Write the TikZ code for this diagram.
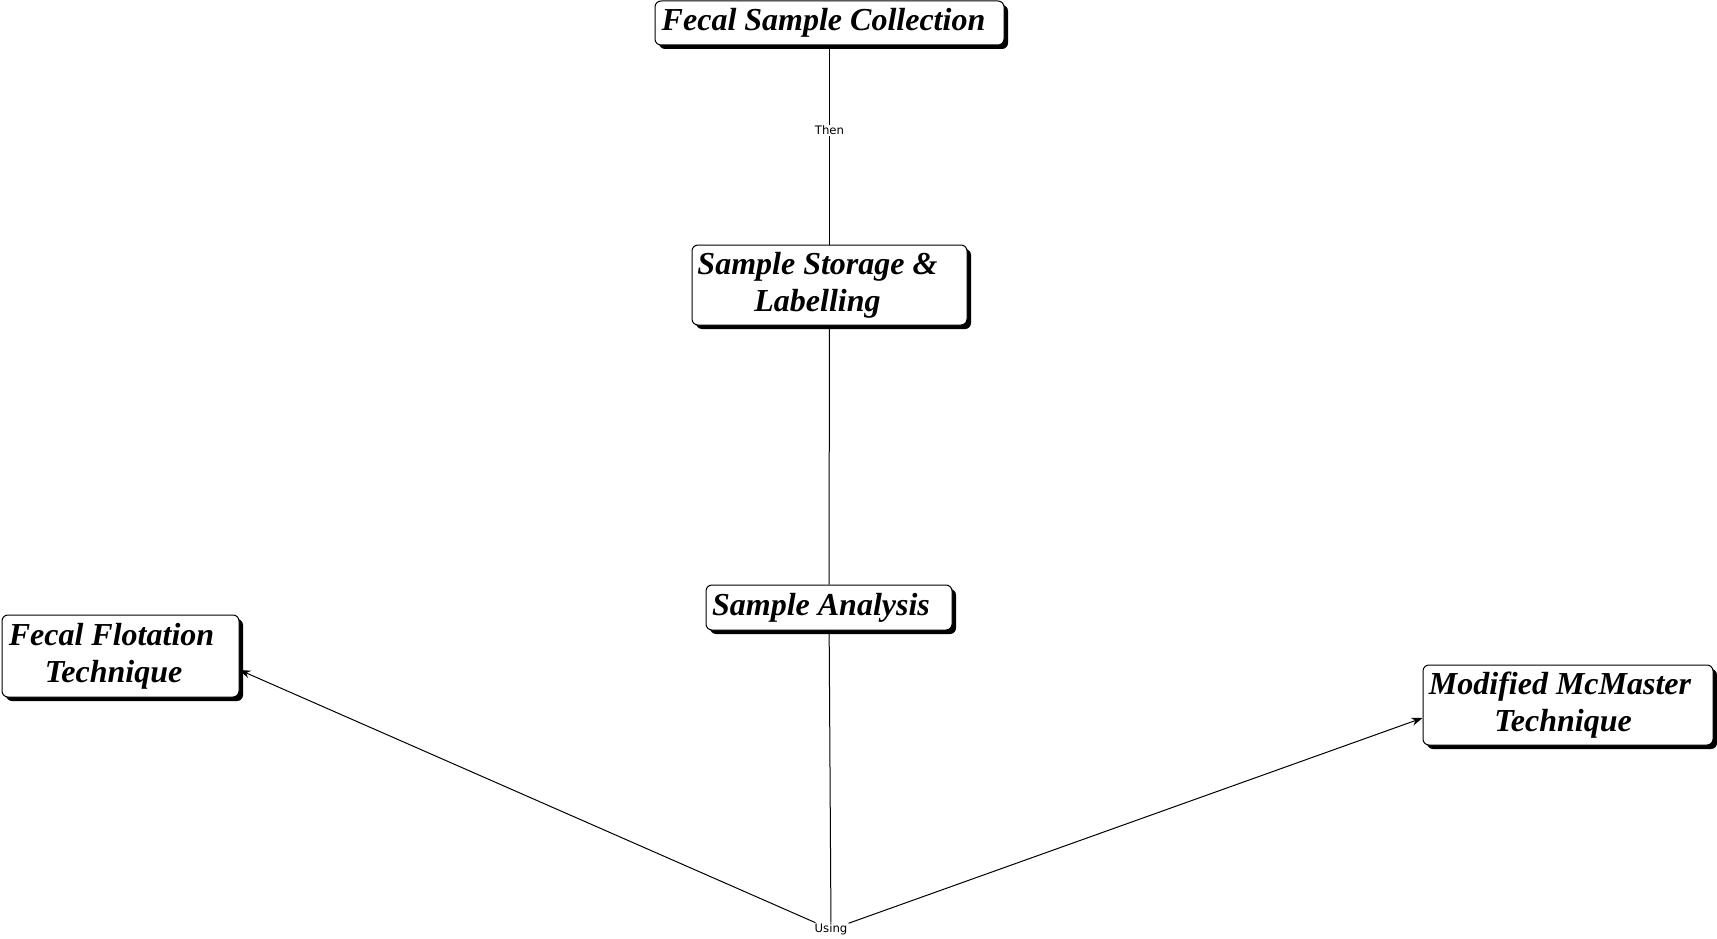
\documentclass[tikz,border=0pt]{standalone}
\usepackage{fontspec}
\setmainfont{Liberation Serif}
\newfontfamily\labelfont{DejaVu Sans}
\usetikzlibrary{shadows,arrows.meta,calc}
\begin{document}
\begin{tikzpicture}[x=1pt,y=1pt,
  box/.style={draw=black, line width=1pt, rounded corners=6pt, fill=white,
    drop shadow={shadow xshift=4pt, shadow yshift=-4pt, fill=black, opacity=1},
    align=center, font=\fontsize{32}{37}\selectfont\bfseries\itshape, inner sep=0pt},
  lbl/.style={font=\fontsize{11.7}{14}\selectfont\labelfont, fill=white, inner sep=1pt},
  conn/.style={line width=1pt},
  arr/.style={conn, -{Stealth[length=11pt,width=8pt]}}]
\useasboundingbox (0,0) rectangle (1717,-939);
\node[box, minimum width=349pt, minimum height=44pt] (col) at (829.5,-23) {Fecal Sample Collection\hspace*{12pt}};
\node[box, minimum width=275pt, minimum height=80pt] (sto) at (829.5,-285) {Sample Storage \&\hspace*{24pt}\\Labelling\hspace*{24pt}};
\node[box, minimum width=246pt, minimum height=45pt] (ana) at (829,-607.5) {Sample Analysis\hspace*{16pt}};
\node[box, minimum width=237pt, minimum height=82pt] (flo) at (120.5,-656) {Fecal Flotation\hspace*{18pt}\\Technique\hspace*{14pt}};
\node[box, minimum width=290pt, minimum height=80pt] (mc) at (1568,-705) {Modified McMaster\hspace*{16pt}\\Technique\hspace*{10pt}};
\node[lbl] (use) at (831,-929.5) {Using};
\draw[conn] (col) -- node[lbl, pos=0.425] (then) {Then} (sto);
\draw[conn] (sto) -- (ana);
\draw[conn] (ana) -- (use);
\draw[arr] (use) -- ([yshift=-14pt]flo.east);
\draw[arr] (use) -- ([yshift=-13pt]mc.west);
\end{tikzpicture}
\end{document}
